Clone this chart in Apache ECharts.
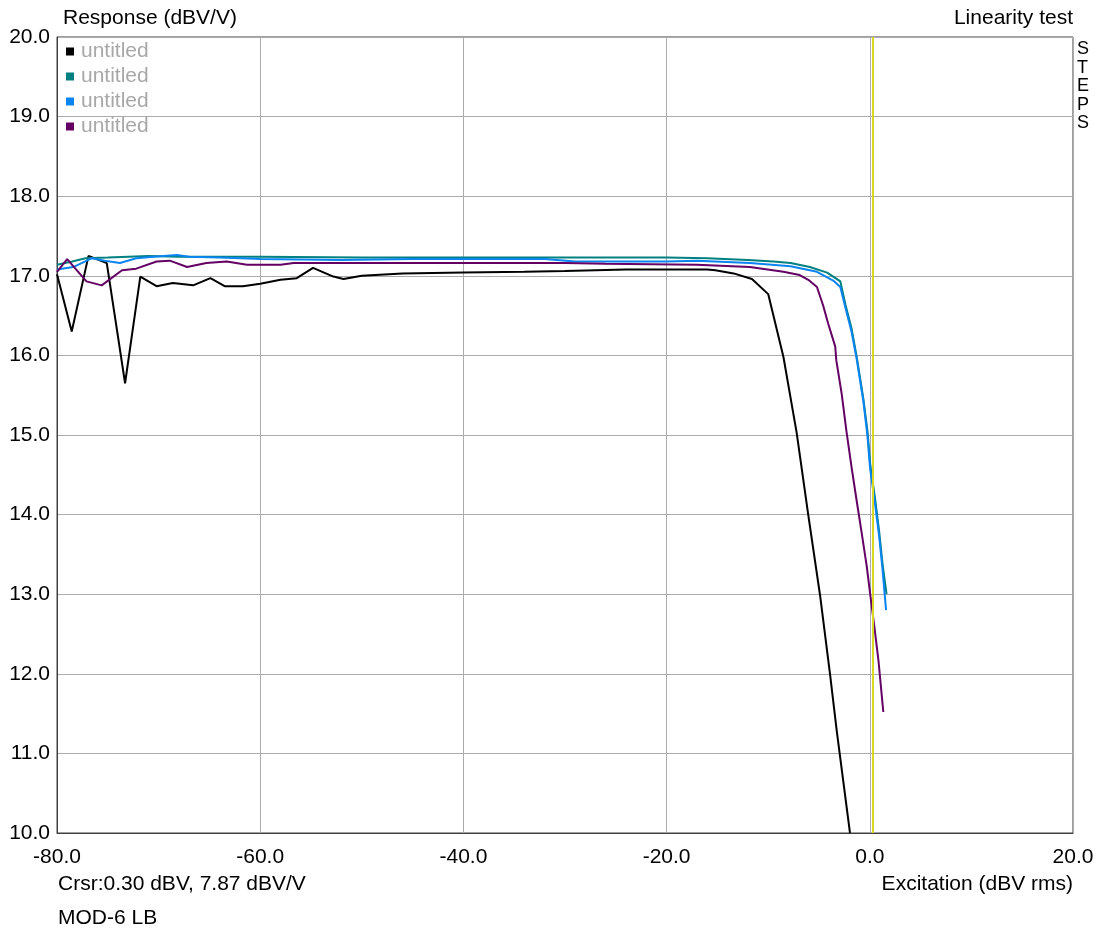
<!DOCTYPE html>
<html>
<head>
<meta charset="utf-8">
<script src="https://cdn.jsdelivr.net/npm/echarts@6/dist/echarts.min.js"></script>
<style>
  html, body { margin: 0; padding: 0; background: #fff; }
  #chart { width: 1101px; height: 938px; }
</style>
</head>
<body>
<div id="chart"></div>
<script>
// x ticks / y ticks
var xTicks = [-80, -60, -40, -20, 0, 20];
var yTicks = [10, 11, 12, 13, 14, 15, 16, 17, 18, 19, 20];
var cursorX = 0.30;

// [excitation dBV rms, response dBV/V]
var blackData = [
  [-80, 17.02], [-78.55, 16.30], [-76.9, 17.25], [-75.1, 17.16], [-73.3, 15.65],
  [-71.8, 16.99], [-70.2, 16.87], [-68.6, 16.91], [-66.6, 16.88], [-64.9, 16.97],
  [-63.5, 16.87], [-61.7, 16.87], [-60, 16.90], [-58.0, 16.95], [-56.4, 16.97],
  [-54.8, 17.10], [-52.8, 16.99], [-51.8, 16.96], [-50, 17.00], [-46, 17.03],
  [-40, 17.04], [-34, 17.05], [-30, 17.06], [-24, 17.08], [-20, 17.08],
  [-16, 17.08], [-15.2, 17.07], [-13.4, 17.03], [-11.6, 16.96], [-10.0, 16.77],
  [-8.5, 15.98], [-7.2, 15.03], [-6.05, 13.99], [-4.9, 12.99], [-3.9, 11.98],
  [-3.26, 11.29], [-1.95, 10.0]
];
var tealData = [
  [-80, 17.14], [-78.5, 17.18], [-77.2, 17.22], [-75, 17.23], [-73, 17.24],
  [-71, 17.25], [-68, 17.24], [-60, 17.24], [-50, 17.23], [-40, 17.23],
  [-30, 17.23], [-20, 17.23], [-16, 17.22], [-12, 17.20], [-9.5, 17.18],
  [-7.8, 17.16], [-5.9, 17.11], [-4.2, 17.04], [-2.9, 16.93], [-2.4, 16.64],
  [-1.8, 16.34], [-1.3, 15.99], [-0.64, 15.46], [-0.22, 15.04], [0.05, 14.62],
  [0.52, 14.20], [0.92, 13.79], [1.26, 13.37], [1.65, 13.0]
];
var blueData = [
  [-80, 17.08], [-78.4, 17.11], [-76.6, 17.22], [-75.3, 17.19], [-73.8, 17.16],
  [-72.2, 17.22], [-70.5, 17.24], [-68.2, 17.26], [-67, 17.24], [-64, 17.23],
  [-60, 17.21], [-52, 17.20], [-45, 17.21], [-40, 17.21], [-32, 17.21],
  [-29, 17.18], [-20, 17.18], [-17, 17.19], [-11.8, 17.16], [-7.8, 17.12],
  [-5.2, 17.05], [-3.6, 16.94], [-2.9, 16.86], [-2.4, 16.60], [-1.8, 16.30],
  [-1.3, 15.96], [-0.65, 15.44], [-0.24, 15.0], [0.03, 14.58], [0.5, 14.15],
  [0.9, 13.75], [1.24, 13.33], [1.6, 12.8]
];
var purpleData = [
  [-80, 17.05], [-79.0, 17.21], [-77.1, 16.93], [-75.6, 16.88], [-73.6, 17.07],
  [-72.2, 17.09], [-70.2, 17.18], [-68.9, 17.19], [-67.2, 17.11], [-65.3, 17.16],
  [-63.3, 17.18], [-61.3, 17.14], [-58, 17.14], [-56.7, 17.16], [-50, 17.16],
  [-40, 17.16], [-30, 17.16], [-26, 17.15], [-17, 17.14], [-11.8, 17.11],
  [-8.5, 17.05], [-6.9, 17.01], [-6.05, 16.95], [-5.2, 16.86], [-4.6, 16.63],
  [-4.1, 16.40], [-3.4, 16.11], [-3.3, 15.94], [-2.77, 15.52], [-2.3, 15.05],
  [-1.8, 14.6], [-1.3, 14.18], [-0.8, 13.77], [-0.3, 13.35], [0.03, 13.01],
  [0.45, 12.59], [0.85, 12.17], [1.33, 11.52]
];

var font = 'Arial, "Liberation Sans", sans-serif';
var myChart = echarts.init(document.getElementById('chart'));

function lineSeries(name, color, data) {
  return {
    name: name,
    type: 'line',
    showSymbol: false,
    symbol: 'none',
    animation: false,
    lineStyle: { width: 2, color: color },
    itemStyle: { color: color },
    data: data
  };
}

var series = [
  lineSeries('s1', '#000000', blackData),
  lineSeries('s2', '#008080', tealData),
  lineSeries('s3', '#0a84f0', blueData),
  lineSeries('s4', '#640064', purpleData)
];
// cursor line
series[0].markLine = {
  silent: true,
  symbol: 'none',
  animation: false,
  label: { show: false },
  lineStyle: { color: '#d8d820', width: 2, type: 'solid' },
  data: [{ xAxis: cursorX }]
};

var option = {
  backgroundColor: '#ffffff',
  animation: false,
  grid: {
    left: 57, right: 28, top: 37, bottom: 105,
    show: true,
    borderColor: '#404040',
    borderWidth: 1
  },
  legend: {
    orient: 'vertical',
    left: 66,
    top: 39,
    padding: 0,
    icon: 'rect',
    itemWidth: 8,
    itemHeight: 8,
    itemGap: 0,
    selectedMode: false,
    formatter: function () { return 'untitled'; },
    textStyle: { color: '#a8a8a8', fontSize: 21, fontFamily: font, lineHeight: 25, padding: [0, 0, 0, 2] },
    data: ['s1', 's2', 's3', 's4']
  },
  xAxis: {
    type: 'value',
    min: xTicks[0],
    max: xTicks[xTicks.length - 1],
    interval: 20,
    axisLine: { show: true, onZero: false, lineStyle: { color: '#404040', width: 1 } },
    axisTick: { show: false },
    axisLabel: {
      color: '#000',
      fontSize: 21,
      fontFamily: font,
      margin: 14,
      formatter: function (v) { return v.toFixed(1); }
    },
    splitLine: { show: true, lineStyle: { color: '#ababab', width: 1 } }
  },
  yAxis: {
    type: 'value',
    min: yTicks[0],
    max: yTicks[yTicks.length - 1],
    interval: 1,
    axisLine: { show: true, onZero: false, lineStyle: { color: '#404040', width: 1 } },
    axisTick: { show: false },
    axisLabel: {
      color: '#000',
      fontSize: 21,
      fontFamily: font,
      margin: 7,
      formatter: function (v) { return v.toFixed(1); }
    },
    splitLine: { show: true, lineStyle: { color: '#ababab', width: 1 } }
  },
  graphic: [
    { type: 'text', left: 63, top: 8, style: { text: 'Response (dBV/V)', font: '21px ' + font, fill: '#000' } },
    { type: 'text', right: 28, top: 8, style: { text: 'Linearity test', font: '21px ' + font, fill: '#000' } },
    { type: 'text', left: 1077, top: 40, style: { text: 'S\nT\nE\nP\nS', font: '18px ' + font, lineHeight: 18.5, fill: '#000' } },
    { type: 'text', left: 58, top: 874, style: { text: 'Crsr:0.30 dBV, 7.87 dBV/V', font: '21px ' + font, fill: '#000' } },
    { type: 'text', right: 28, top: 874, style: { text: 'Excitation (dBV rms)', font: '21px ' + font, fill: '#000' } },
    { type: 'text', left: 58, top: 908, style: { text: 'MOD-6 LB', font: '21px ' + font, fill: '#000' } }
  ],
  series: series
};
myChart.setOption(option);
</script>
</body>
</html>
